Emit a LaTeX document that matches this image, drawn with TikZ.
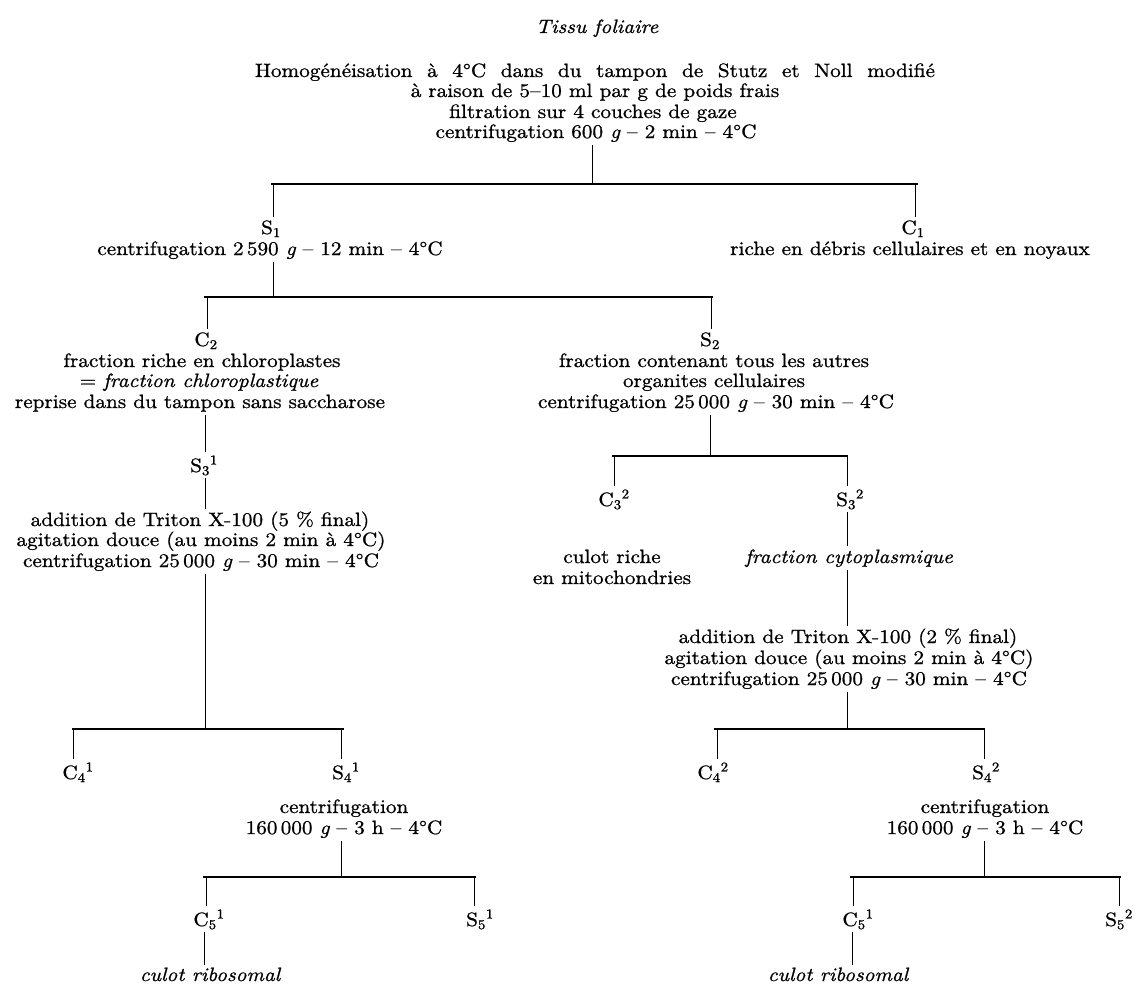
\documentclass[tikz,border=0pt]{standalone}
\usepackage{fontspec}
\setmainfont{lmroman10-regular.otf}[FakeStretch=1.10, FakeBold=0.9, ItalicFont=lmroman10-italic.otf, ItalicFeatures={FakeBold=0.9, FakeStretch=1.10}]
\newcommand{\gi}{{\itshape g}}
\begin{document}
\begin{tikzpicture}[x=1pt,y=-1pt,
  txt/.style={inner sep=3pt, outer sep=0pt, anchor=base, font=\fontsize{19.3}{20.5}\selectfont},
  itx/.style={txt, font=\fontsize{19.3}{20.5}\selectfont\itshape},
  conn/.style={line width=0.9pt, black},
  barline/.style={line width=1.3pt, black}]
\useasboundingbox (0,0) rectangle (1135,986);

% ---------- top block
\node[itx] (tissu) at (597,33) {Tissu foliaire};
\node[txt] (h1) at (595,77) {\makebox[680pt][s]{Homogénéisation à 4°C dans du tampon de Stutz et Noll modifié}};
\node[txt] (h2) at (595,97) {à raison de 5–10 ml par g de poids frais};
\node[txt] (h3) at (593,118) {filtration sur 4 couches de gaze};
\node[txt] (h4) at (596,138) {centrifugation 600 \gi{} – 2 min – 4°C};

% ---------- level 1
\node[txt] (s1) at (271,234) {S\textsubscript{1}};
\node[txt] (s1t) at (270,255) {centrifugation 2\,590 \gi{} – 12 min – 4°C};
\node[txt] (c1) at (913,234) {C\textsubscript{1}};
\node[txt] (c1t) at (910,255) {riche en débris cellulaires et en noyaux};

% ---------- level 2
\node[txt] (c2) at (206,346) {C\textsubscript{2}};
\node[txt] (c2a) at (202,367) {fraction riche en chloroplastes};
\node[txt] (c2b) at (199,387) {= \textit{fraction chloroplastique}};
\node[txt] (c2c) at (200,408) {reprise dans du tampon sans saccharose};
\node[txt] (s2) at (710,346) {S\textsubscript{2}};
\node[txt] (s2a) at (714,367) {fraction contenant tous les autres};
\node[txt] (s2b) at (714,387) {organites cellulaires};
\node[txt] (s2c) at (716,408) {centrifugation 25\,000 \gi{} – 30 min – 4°C};

% ---------- left chain
\node[txt] (s31) at (204,472) {S\textsubscript{3}\textsuperscript{1}};
\node[txt] (a1a) at (200,526) {addition de Triton X-100 (5~\% final)};
\node[txt] (a1b) at (201,546) {agitation douce (au moins 2 min à 4°C)};
\node[txt] (a1c) at (201,567) {centrifugation 25\,000 \gi{} – 30 min – 4°C};

\node[txt] (c41) at (78,779) {C\textsubscript{4}\textsuperscript{1}};
\node[txt] (s41) at (346,779) {S\textsubscript{4}\textsuperscript{1}};
\node[txt] (s41a) at (344,813) {centrifugation};
\node[txt] (s41b) at (344,834) {160\,000 \gi{} – 3 h – 4°C};
\node[txt] (c51) at (209,926) {C\textsubscript{5}\textsuperscript{1}};
\node[txt] (s51) at (480,926) {S\textsubscript{5}\textsuperscript{1}};
\node[itx] (rib1) at (210,981) {culot ribosomal};

% ---------- right chain
\node[txt] (c32) at (614,506) {C\textsubscript{3}\textsuperscript{2}};
\node[txt] (s32) at (850,506) {S\textsubscript{3}\textsuperscript{2}};
\node[txt] (cr1) at (612,563) {culot riche};
\node[txt] (cr2) at (612,584) {en mitochondries};
\node[itx] (fc) at (849,563) {fraction cytoplasmique};
\node[txt] (a2a) at (848,643) {addition de Triton X-100 (2~\% final)};
\node[txt] (a2b) at (849,664) {agitation douce (au moins 2 min à 4°C)};
\node[txt] (a2c) at (849,685) {centrifugation 25\,000 \gi{} – 30 min – 4°C};

\node[txt] (c42) at (713,779) {C\textsubscript{4}\textsuperscript{2}};
\node[txt] (s42) at (986,779) {S\textsubscript{4}\textsuperscript{2}};
\node[txt] (s42a) at (985,813) {centrifugation};
\node[txt] (s42b) at (985,834) {160\,000 \gi{} – 3 h – 4°C};
\node[txt] (c52) at (858,926) {C\textsubscript{5}\textsuperscript{1}};
\node[txt] (s52) at (1119,926) {S\textsubscript{5}\textsuperscript{2}};
\node[itx] (rib2) at (838,981) {culot ribosomal};

% ---------- bar coordinates
\coordinate (b0L) at (271,184); \coordinate (b0R) at (918,184);
\coordinate (b0m) at (592,184); \coordinate (b0a) at (273,184); \coordinate (b0b) at (915,184);
\coordinate (b1L) at (204,297); \coordinate (b1R) at (713,297);
\coordinate (b1m) at (273,297); \coordinate (b1a) at (207,297); \coordinate (b1b) at (711,297);
\coordinate (b4L) at (612,456); \coordinate (b4R) at (848,456);
\coordinate (b4m) at (710,456); \coordinate (b4a) at (614,456); \coordinate (b4b) at (847,456);
\coordinate (b2L) at (72,729); \coordinate (b2R) at (344,729);
\coordinate (b2m) at (205,729); \coordinate (b2a) at (73,729); \coordinate (b2b) at (341,729);
\coordinate (b5L) at (714,729); \coordinate (b5R) at (985,729);
\coordinate (b5m) at (847,729); \coordinate (b5a) at (717,729); \coordinate (b5b) at (984,729);
\coordinate (b3L) at (203,877); \coordinate (b3R) at (476,877);
\coordinate (b3m) at (341,877); \coordinate (b3a) at (206,877); \coordinate (b3b) at (474,877);
\coordinate (b6L) at (850,877); \coordinate (b6R) at (1121,877);
\coordinate (b6m) at (984,877); \coordinate (b6a) at (853,877); \coordinate (b6b) at (1119,877);
\coordinate (x1) at (205,0); \coordinate (x2) at (204,0); \coordinate (x3) at (852,0);

% ---------- bars
\foreach \b in {b0,b1,b4,b2,b5,b3,b6}
  \draw[barline] (\b L) -- (\b R);

% ---------- connectors
\draw[conn] (b0m |- h4.south) -- (b0m);
\draw[conn] (b0a) -- (b0a |- s1.north);
\draw[conn] (b0b) -- (b0b |- c1.north);
\draw[conn] (b1m |- s1t.south) -- (b1m);
\draw[conn] (b1a) -- (b1a |- c2.north);
\draw[conn] (b1b) -- (b1b |- s2.north);

\draw[conn] (x1 |- c2c.south) -- (x1 |- s31.north);
\draw[conn] (x1 |- s31.south) -- (x1 |- a1a.north);
\draw[conn] (b2m |- a1c.south) -- (b2m);
\draw[conn] (b2a) -- (b2a |- c41.north);
\draw[conn] (b2b) -- (b2b |- s41.north);
\draw[conn] (b3m |- s41b.south) -- (b3m);
\draw[conn] (b3a) -- (b3a |- c51.north);
\draw[conn] (b3b) -- (b3b |- s51.north);
\draw[conn] (x2 |- c51.south) -- (x2 |- rib1.north);

\draw[conn] (b4m |- s2c.south) -- (b4m);
\draw[conn] (b4a) -- (b4a |- c32.north);
\draw[conn] (b4b) -- (b4b |- s32.north);
\draw[conn] (b4b |- s32.south) -- (b4b |- fc.north);
\draw[conn] (b4b |- fc.south) -- (b4b |- a2a.north);
\draw[conn] (b5m |- a2c.south) -- (b5m);
\draw[conn] (b5a) -- (b5a |- c42.north);
\draw[conn] (b5b) -- (b5b |- s42.north);
\draw[conn] (b6m |- s42b.south) -- (b6m);
\draw[conn] (b6a) -- (b6a |- c52.north);
\draw[conn] (b6b) -- (b6b |- s52.north);
\draw[conn] (x3 |- c52.south) -- (x3 |- rib2.north);
\end{tikzpicture}
\end{document}
